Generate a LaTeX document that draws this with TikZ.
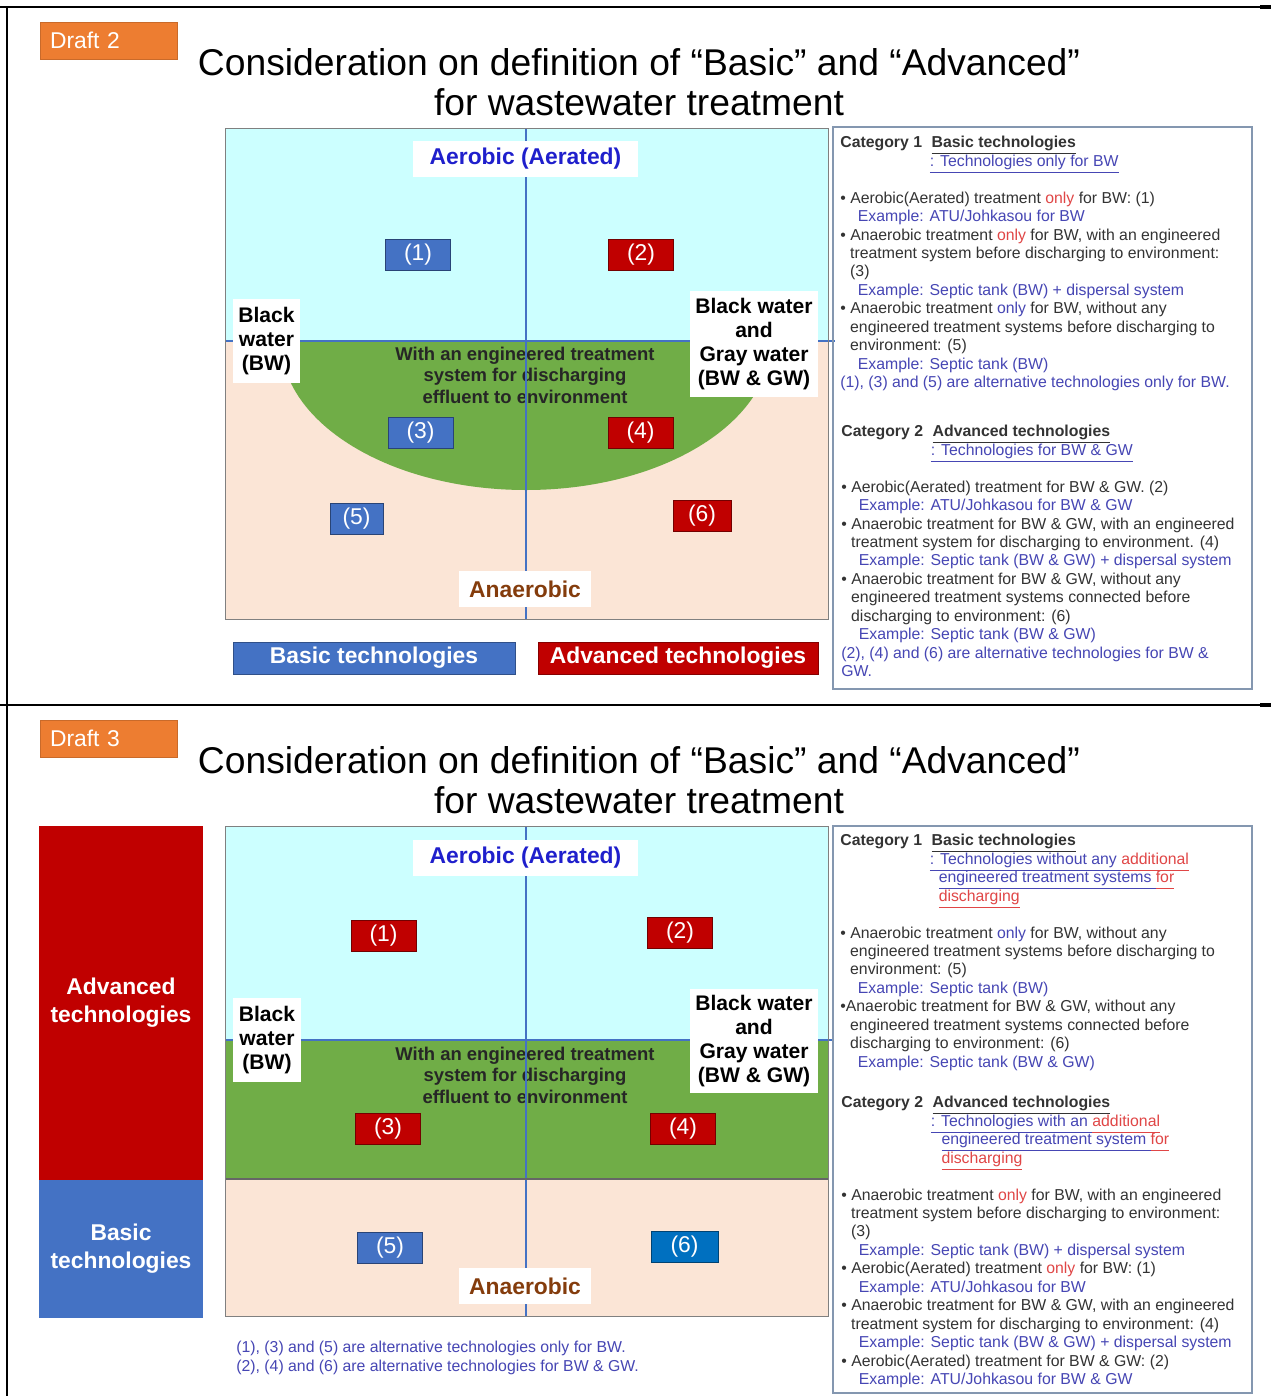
\documentclass[tikz,border=0pt]{standalone}
\usepackage{fontspec}
\setmainfont{Liberation Sans}
\usetikzlibrary{positioning}

\definecolor{draftorange}{HTML}{ED7D31}
\definecolor{aerozone}{HTML}{CCFFFF}
\definecolor{anaezone}{HTML}{FBE5D6}
\definecolor{treatzone}{HTML}{70AD47}
\definecolor{basicblue}{HTML}{4472C4}
\definecolor{advred}{HTML}{C00000}
\definecolor{deepblue}{HTML}{0070C0}
\definecolor{aerotext}{HTML}{1F1FCC}
\definecolor{anaetext}{HTML}{843C0C}
\definecolor{exblue}{HTML}{4646B4}
\definecolor{onlyred}{HTML}{E04646}
\definecolor{panelgray}{HTML}{8497B0}

\newcommand{\onlyR}{\textcolor{onlyred}{only}}
\newcommand{\onlyB}{\textcolor{exblue}{only}}
\newcommand{\exline}[1]{\hspace*{10pt}\textcolor{exblue}{#1}}
\newcommand{\contind}{\hspace*{5.6pt}}
\newcommand{\undl}[1]{\underline{\vphantom{gy(}#1}}

\begin{document}
\begin{tikzpicture}[
  x=0.02cm, y=-0.02cm,
  frameline/.style={line width=0.9pt},
  draftlabel/.style={fill=draftorange, draw=draftorange!85!black, text=white,
    minimum width=2.74cm, minimum height=0.74cm, text width=2.34cm, align=left,
    inner xsep=0.2cm, font=\fontsize{13}{15}\selectfont},
  heading/.style={anchor=north, align=center, inner sep=0pt, font=\fontsize{21.2}{22.7}\selectfont},
  zoneline/.style={draw=basicblue, line width=1.1pt},
  zonebox/.style={draw=black!50, line width=0.5pt},
  whitelabel/.style={fill=white, inner sep=0pt, align=center, font=\bfseries\fontsize{12}{13.8}\selectfont},
  axislabel/.style={whitelabel, font=\bfseries\fontsize{13}{15}\selectfont},
  treattext/.style={align=center, text=black!85, font=\bfseries\fontsize{10.5}{12.2}\selectfont},
  numbox/.style={fill=#1, draw=#1!60!black, line width=0.5pt, text=white, minimum width=1.3cm,
    minimum height=0.62cm, inner sep=0pt, font=\fontsize{13}{13}\selectfont},
  techbox/.style={fill=#1, text=white, inner sep=0pt, align=center, font=\bfseries\fontsize{13}{15.9}\selectfont},
  panel/.style={draw=panelgray, line width=0.6pt},
  paneltext/.style={anchor=north west, align=left, inner sep=0pt, text=black!80, font=\fontsize{9}{10.5}\selectfont}
]
\useasboundingbox (0,0) rectangle (1271,1396);
\fill[white] (0,0) rectangle (1271,1396);

\draw[frameline] (0,7) -- (1271,7);
\draw[frameline] (0,705) -- (1271,705);
\draw[frameline] (7,7) -- (7,1396);
\draw[line width=1.8pt] (1260,7) -- (1271,7);
\draw[line width=1.8pt] (1260,705) -- (1271,705);

% Draft 2
\node[draftlabel] (draft2) at (108.5,40.5) {Draft 2};
\node[heading] (title2) at (639,48) {Consideration on definition of “Basic” and “Advanced”\\for wastewater treatment};

\fill[aerozone] (225,128) rectangle (828,341);
\fill[anaezone] (225,341) rectangle (828,619);
\begin{scope}
  \clip (225,341) rectangle (828,619);
  \fill[treatzone] (526,341) ellipse[x radius=245, y radius=149];
\end{scope}
\node[treattext] (treat2) at (525,375) {With an engineered treatment\\system for discharging\\effluent to environment};
\draw[zoneline] (526,128) -- (526,619);
\draw[zoneline] (225,341) -- (835,341);
\draw[zonebox] (225,128) rectangle (828,619);

\node[axislabel, text=aerotext, minimum width=4.5cm, minimum height=0.72cm] (aero2) at (525.5,159) {Aerobic (Aerated)};
\node[axislabel, text=anaetext, minimum width=2.64cm, minimum height=0.72cm] (anae2) at (525,589) {Anaerobic};
\node[whitelabel, minimum width=1.34cm, minimum height=1.68cm] (bw2) at (266.5,341) {Black\\water\\(BW)};
\node[whitelabel, minimum width=2.56cm, minimum height=2.12cm] (bwgw2) at (754,344) {Black water\\and\\Gray water\\(BW \& GW)};

\node[numbox=basicblue] (one2) at (418,254.5) {(1)};
\node[numbox=advred] (two2) at (641,254.5) {(2)};
\node[numbox=basicblue] (three2) at (420.5,432.5) {(3)};
\node[numbox=advred] (four2) at (640.5,432.5) {(4)};
\node[numbox=basicblue, minimum width=1.06cm] (five2) at (356.5,518.5) {(5)};
\node[numbox=advred, minimum width=1.16cm] (six2) at (702,516) {(6)};

\node[techbox=basicblue, draw=basicblue!70!black, minimum width=5.64cm, minimum height=0.64cm] (basiclegend) at (374,658) {Basic technologies};
\node[techbox=advred, draw=advred!70!black, minimum width=5.6cm, minimum height=0.64cm] (advlegend) at (678,658) {Advanced technologies};

\draw[panel] (833,127) rectangle (1252,689);
\node[paneltext] (cat21) at (840,136) {%
\makebox[52pt][l]{\textbf{Category 1}}\textbf{\undl{Basic technologies}}\\
\hspace*{51pt}\textcolor{exblue}{\undl{: Technologies only for BW}}\\[10.5pt]
• Aerobic(Aerated) treatment \onlyR{} for BW: (1)\\
\exline{Example: ATU/Johkasou for BW}\\
• Anaerobic treatment \onlyR{} for BW, with an engineered\\
\contind treatment system before discharging to environment:\\
\contind (3)\\
\exline{Example: Septic tank (BW) + dispersal system}\\
• Anaerobic treatment \onlyB{} for BW, without any\\
\contind engineered treatment systems before discharging to\\
\contind environment: (5)\\
\exline{Example: Septic tank (BW)}\\
\textcolor{exblue}{(1), (3) and (5) are alternative technologies only for BW.}};
\node[paneltext] (cat22) at (841,425) {%
\makebox[52pt][l]{\textbf{Category 2}}\textbf{\undl{Advanced technologies}}\\
\hspace*{51pt}\textcolor{exblue}{\undl{: Technologies for BW \& GW}}\\[10.5pt]
• Aerobic(Aerated) treatment for BW \& GW. (2)\\
\exline{Example: ATU/Johkasou for BW \& GW}\\
• Anaerobic treatment for BW \& GW, with an engineered\\
\contind treatment system for discharging to environment. (4)\\
\exline{Example: Septic tank (BW \& GW) + dispersal system}\\
• Anaerobic treatment for BW \& GW, without any\\
\contind engineered treatment systems connected before\\
\contind discharging to environment: (6)\\
\exline{Example: Septic tank (BW \& GW)}\\
\textcolor{exblue}{(2), (4) and (6) are alternative technologies for BW \&}\\
\textcolor{exblue}{GW.}};

% Draft 3
\node[draftlabel] (draft3) at (108.5,738.5) {Draft 3};
\node[heading] (title3) at (639,746) {Consideration on definition of “Basic” and “Advanced”\\for wastewater treatment};

\node[techbox=advred, minimum width=3.28cm, minimum height=7.08cm] (advcol) at (121,1003) {Advanced\\technologies};
\node[techbox=basicblue, minimum width=3.28cm, minimum height=2.76cm] (basiccol) at (121,1249) {Basic\\technologies};

\fill[aerozone] (225,826) rectangle (828,1040);
\fill[treatzone] (225,1040) rectangle (828,1179);
\fill[anaezone] (225,1179) rectangle (828,1316);
\node[treattext] (treat3) at (525,1075) {With an engineered treatment\\system for discharging\\effluent to environment};
\draw[zoneline] (526,826) -- (526,1316);
\draw[zoneline] (225,1040) -- (832,1040);
\draw[black!60, line width=0.7pt] (225,1179) -- (828,1179);
\draw[zonebox] (225,826) rectangle (828,1316);

\node[axislabel, text=aerotext, minimum width=4.5cm, minimum height=0.72cm] (aero3) at (525.5,858) {Aerobic (Aerated)};
\node[axislabel, text=anaetext, minimum width=2.64cm, minimum height=0.72cm] (anae3) at (525,1286) {Anaerobic};
\node[whitelabel, minimum width=1.36cm, minimum height=1.68cm] (bw3) at (267,1040) {Black\\water\\(BW)};
\node[whitelabel, minimum width=2.56cm, minimum height=2.08cm] (bwgw3) at (754,1041) {Black water\\and\\Gray water\\(BW \& GW)};

\node[numbox=advred] (one3) at (383.5,935.5) {(1)};
\node[numbox=advred] (two3) at (680,932.5) {(2)};
\node[numbox=advred] (three3) at (388,1129) {(3)};
\node[numbox=advred] (four3) at (683,1129) {(4)};
\node[numbox=basicblue] (five3) at (390,1248) {(5)};
\node[numbox=deepblue, minimum width=1.34cm] (six3) at (684.5,1247) {(6)};

\node[paneltext, text=exblue] (notes3) at (236,1341) {(1), (3) and (5) are alternative technologies only for BW.\\(2), (4) and (6) are alternative technologies for BW \& GW.};

\draw[panel] (833,826) rectangle (1252,1393);
\node[paneltext] (cat31) at (840,834) {%
\makebox[52pt][l]{\textbf{Category 1}}\textbf{\undl{Basic technologies}}\\
\hspace*{51pt}\textcolor{exblue}{\undl{: Technologies without any }}\textcolor{onlyred}{\undl{additional}}\\
\hspace*{56pt}\textcolor{exblue}{\undl{engineered treatment systems }}\textcolor{onlyred}{\undl{for}}\\
\hspace*{56pt}\textcolor{onlyred}{\undl{discharging}}\\[10.5pt]
• Anaerobic treatment \onlyB{} for BW, without any\\
\contind engineered treatment systems before discharging to\\
\contind environment: (5)\\
\exline{Example: Septic tank (BW)}\\
•Anaerobic treatment for BW \& GW, without any\\
\contind engineered treatment systems connected before\\
\contind discharging to environment: (6)\\
\exline{Example: Septic tank (BW \& GW)}};
\node[paneltext] (cat32) at (841,1096) {%
\makebox[52pt][l]{\textbf{Category 2}}\textbf{\undl{Advanced technologies}}\\
\hspace*{51pt}\textcolor{exblue}{\undl{: Technologies with an }}\textcolor{onlyred}{\undl{additional}}\\
\hspace*{57pt}\textcolor{exblue}{\undl{engineered treatment system }}\textcolor{onlyred}{\undl{for}}\\
\hspace*{57pt}\textcolor{onlyred}{\undl{discharging}}\\[10.5pt]
• Anaerobic treatment \onlyR{} for BW, with an engineered\\
\contind treatment system before discharging to environment:\\
\contind (3)\\
\exline{Example: Septic tank (BW) + dispersal system}\\
• Aerobic(Aerated) treatment \onlyR{} for BW: (1)\\
\exline{Example: ATU/Johkasou for BW}\\
• Anaerobic treatment for BW \& GW, with an engineered\\
\contind treatment system for discharging to environment: (4)\\
\exline{Example: Septic tank (BW \& GW) + dispersal system}\\
• Aerobic(Aerated) treatment for BW \& GW: (2)\\
\exline{Example: ATU/Johkasou for BW \& GW}};
\end{tikzpicture}
\end{document}
